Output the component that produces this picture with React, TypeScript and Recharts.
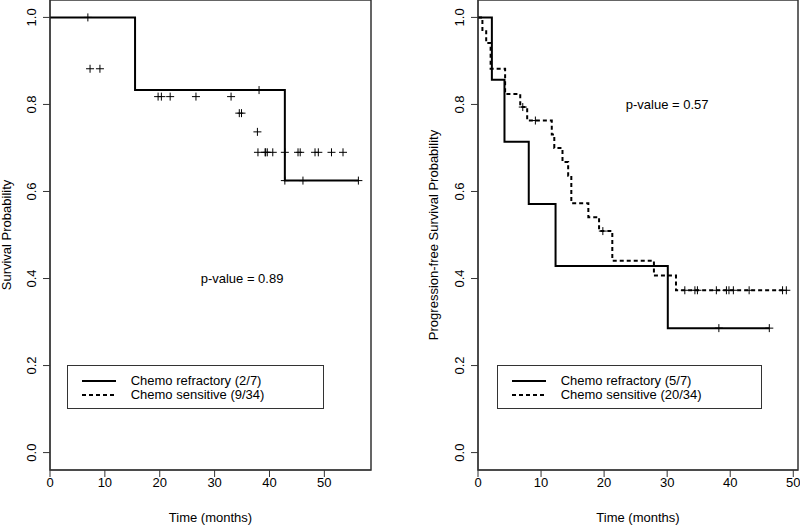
import { ComposedChart, Line, Scatter, XAxis, YAxis, ReferenceArea, ReferenceDot, Legend } from 'recharts'

// ---- Overall survival (left panel) ----
const osRefTime = [0, 15.5, 42.8, 56.2]
const osRefSurv = [1, 0.833, 0.625, 0.625]
const osRefCensorTime = [6.9, 38.1, 42.8, 46.1, 56.2]
const osRefCensorSurv = [1, 0.833, 0.625, 0.625, 0.625]
const osSenCensorTime = [
  7.3, 9.1,
  19.7, 20.3, 21.9, 26.6, 33.0,
  34.5, 34.9,
  37.8,
  37.9, 39.2, 39.3, 39.6, 40.6, 42.8, 45.2, 45.6, 48.3, 48.9, 51.3, 53.4,
]
const osSenCensorSurv = [
  0.882, 0.882,
  0.818, 0.818, 0.818, 0.818, 0.818,
  0.78, 0.78,
  0.737,
  0.69, 0.69, 0.69, 0.69, 0.69, 0.69, 0.69, 0.69, 0.69, 0.69, 0.69, 0.69,
]

// ---- Progression-free survival (right panel) ----
const pfsRefTime = [0, 2.2, 4.2, 8.05, 12.3, 30.1, 46.2]
const pfsRefSurv = [1, 0.857, 0.714, 0.571, 0.429, 0.286, 0.286]
const pfsRefCensorTime = [38.2, 46.2]
const pfsRefCensorSurv = [0.286, 0.286]
const pfsSenTime = [0, 0.7, 1.3, 2.0, 4.3, 6.7, 7.8, 11.7, 12.1, 13.4, 14.3, 14.8, 17.5, 19.2, 21.3, 27.9, 31.4, 48.9]
const pfsSenSurv = [1, 0.971, 0.941, 0.882, 0.824, 0.794, 0.763, 0.731, 0.7, 0.668, 0.636, 0.573, 0.541, 0.509, 0.441, 0.407, 0.373, 0.373]
const pfsSenCensorTime = [7.1, 9.1, 19.8, 32.8, 34.4, 34.8, 37.8, 39.4, 39.8, 40.5, 43.0, 48.3, 48.9]
const pfsSenCensorSurv = [0.794, 0.763, 0.509, 0.373, 0.373, 0.373, 0.373, 0.373, 0.373, 0.373, 0.373, 0.373, 0.373]

const timeTicks = [0, 10, 20, 30, 40, 50]
const probTicks = [0, 0.2, 0.4, 0.6, 0.8, 1]
const osLegend = ['Chemo refractory (2/7)', 'Chemo sensitive (9/34)']
const pfsLegend = ['Chemo refractory (5/7)', 'Chemo sensitive (20/34)']

const zip = (t: number[], s: number[]) => t.map((v, i) => ({ t: v, s: s[i] }))

const FONT = '"Liberation Sans", Arial, Helvetica, sans-serif'
const BOX = '#333'

const Cross = (props: any) => {
  const { cx, cy } = props
  if (cx == null || cy == null) return null
  return <path d={`M${cx - 4},${cy}H${cx + 4}M${cx},${cy - 4}V${cy + 4}`} stroke="#000" strokeWidth={1} fill="none" />
}

const ProbTick = (props: any) => {
  const { x, y, payload } = props
  const bx = x - 4.5
  return (
    <text x={bx} y={y} transform={`rotate(-90, ${bx}, ${y})`} textAnchor="middle" fontSize={13} fill="#000">
      {Number(payload.value).toFixed(1)}
    </text>
  )
}

const yTitle = (text: string, bx: number) => () => (
  <text x={bx} y={235} transform={`rotate(-90, ${bx}, 235)`} textAnchor="middle" fontSize={13} fill="#000">
    {text}
  </text>
)

const pLabel = (text: string) => (props: any) => {
  const vb = props.viewBox || {}
  const cx = (vb.x ?? 0) + (vb.width ?? 0) / 2
  const cy = (vb.y ?? 0) + (vb.height ?? 0) / 2
  return (
    <text x={cx} y={cy} textAnchor="middle" dominantBaseline="central" fontSize={13} fill="#000">
      {text}
    </text>
  )
}

const LegendBox = ({ labels }: { labels: string[] }) => (
  <div style={{ position: 'relative', width: '100%', height: '100%', boxSizing: 'border-box', border: `1.5px solid ${BOX}`, fontFamily: FONT, fontSize: 13 }}>
    {labels.map((lab, i) => (
      <div key={lab} style={{ position: 'absolute', left: 14, top: 8 + i * 14, height: 14, display: 'flex', alignItems: 'center', whiteSpace: 'nowrap' }}>
        <svg width={34} height={14} style={{ display: 'block' }}>
          <line x1={0} x2={34} y1={7} y2={7} stroke="#000" strokeWidth={2} strokeDasharray={i === 1 ? '4 3' : undefined} />
        </svg>
        <span style={{ marginLeft: 15, lineHeight: '14px', color: '#000' }}>{lab}</span>
      </div>
    ))}
  </div>
)

interface PanelProps {
  left: number
  yWidth: number
  rightMargin: number
  xMax: number
  yLabel: string
  yLabelX: number
  refLine: { t: number; s: number }[]
  senLine: { t: number; s: number }[] | null
  refMarks: { t: number; s: number }[]
  senMarks: { t: number; s: number }[]
  pText: string
  pAt: [number, number]
  legend: string[]
  legendPos: { left: number; top: number; width: number; height: number }
}

const Panel = (p: PanelProps) => (
  <div style={{ position: 'absolute', left: p.left, top: 0 }}>
    <ComposedChart width={400} height={526} margin={{ top: 0, right: p.rightMargin, bottom: 0, left: 0 }}>
      <XAxis
        type="number"
        dataKey="t"
        domain={[0, p.xMax]}
        allowDataOverflow
        ticks={timeTicks}
        height={56}
        tickSize={7}
        tickMargin={1}
        stroke={BOX}
        tick={{ fontSize: 13, fill: '#000' }}
        label={{ value: 'Time (months)', position: 'insideBottom', offset: 4.5, fontSize: 13, fill: '#000' }}
      />
      <YAxis
        type="number"
        dataKey="s"
        domain={[-0.04, 1.04]}
        allowDataOverflow
        ticks={probTicks}
        width={p.yWidth}
        tickSize={7}
        tickMargin={2}
        stroke={BOX}
        tick={ProbTick}
        label={{ content: yTitle(p.yLabel, p.yLabelX) }}
      />
      <ReferenceArea x1={0} x2={p.xMax} y1={-0.04} y2={1.04} fill="none" stroke={BOX} strokeWidth={1.5} fillOpacity={0} />
      <Line data={p.refLine} dataKey="s" type="stepAfter" stroke="#000" strokeWidth={2} dot={false} activeDot={false} isAnimationActive={false} />
      {p.senLine && (
        <Line data={p.senLine} dataKey="s" type="stepAfter" stroke="#000" strokeWidth={2} strokeDasharray="4 3" dot={false} activeDot={false} isAnimationActive={false} />
      )}
      <Scatter data={p.refMarks} shape={Cross} isAnimationActive={false} />
      <Scatter data={p.senMarks} shape={Cross} isAnimationActive={false} />
      <ReferenceDot x={p.pAt[0]} y={p.pAt[1]} r={0} fill="none" stroke="none" label={{ content: pLabel(p.pText) }} />
      <Legend
        layout="horizontal"
        verticalAlign="middle"
        align="center"
        wrapperStyle={{ position: 'absolute', ...p.legendPos }}
        content={() => <LegendBox labels={p.legend} />}
      />
    </ComposedChart>
  </div>
)

export default function App() {
  return (
    <div style={{ position: 'absolute', left: 0, top: 0, width: 800, height: 526, background: '#fff', fontFamily: FONT }}>
      <Panel
        left={0}
        yWidth={50}
        rightMargin={29}
        xMax={58.5}
        yLabel="Survival Probability"
        yLabelX={11}
        refLine={zip(osRefTime, osRefSurv)}
        senLine={null}
        refMarks={zip(osRefCensorTime, osRefCensorSurv)}
        senMarks={zip(osSenCensorTime, osSenCensorSurv)}
        pText="p-value = 0.89"
        pAt={[35, 0.4]}
        legend={osLegend}
        legendPos={{ left: 66.7, top: 365, width: 257, height: 44 }}
      />
      <Panel
        left={400}
        yWidth={78}
        rightMargin={2}
        xMax={50.75}
        yLabel="Progression-free Survival Probability"
        yLabelX={37.5}
        refLine={zip(pfsRefTime, pfsRefSurv)}
        senLine={zip(pfsSenTime, pfsSenSurv)}
        refMarks={zip(pfsRefCensorTime, pfsRefCensorSurv)}
        senMarks={zip(pfsSenCensorTime, pfsSenCensorSurv)}
        pText="p-value = 0.57"
        pAt={[30, 0.8]}
        legend={pfsLegend}
        legendPos={{ left: 96.7, top: 365, width: 265, height: 44 }}
      />
    </div>
  )
}
